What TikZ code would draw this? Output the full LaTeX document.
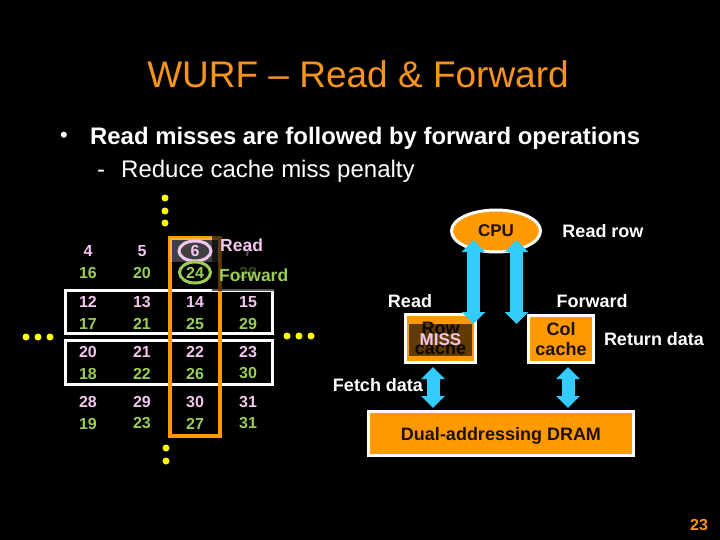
\documentclass[tikz,border=0pt]{standalone}
\usepackage{fontspec}
\setmainfont{Liberation Sans}
\usetikzlibrary{shapes.geometric, arrows.meta, calc}

\definecolor{titleorange}{HTML}{F7941D}
\definecolor{slideorange}{HTML}{FF9900}
\definecolor{arrowblue}{HTML}{33CCFF}
\definecolor{numpink}{HTML}{F2C6EE}
\definecolor{numgreen}{HTML}{99CC55}
\definecolor{dotyellow}{HTML}{FFFF00}
\definecolor{darktext}{HTML}{1F1000}

\tikzset{
  numtop/.style={text=numpink, font=\fontsize{16}{18}\selectfont\bfseries, inner sep=0pt},
  numbot/.style={text=numgreen, font=\fontsize{16}{18}\selectfont\bfseries, inner sep=0pt},
  rowframe/.style={draw=white, line width=3pt},
  boxlbl/.style={text=white, font=\fontsize{18}{20}\selectfont\bfseries, inner sep=0pt},
  darklbl/.style={text=darktext, font=\fontsize{18}{20.5}\selectfont\bfseries, align=center, text depth=0pt},
  unitbox/.style={draw=white, line width=3pt, fill=slideorange, inner sep=0pt},
  dblarrow/.style={draw=arrowblue, line width=13pt,
    {Triangle[width=23pt,length=12pt]}-{Triangle[width=23pt,length=12pt]}},
  ellipsisdot/.style={fill=dotyellow}
}

\begin{document}
\begin{tikzpicture}[x=1pt, y=-1pt]
  % Background
  \fill[black] (0,0) rectangle (720,540);

  % Title and bullets
  \node[anchor=base, inner sep=0pt, text=titleorange, font=\fontsize{37}{40}\selectfont] (title) at (358,88) {WURF – Read \& Forward};
  \node[text=white, font=\fontsize{22}{24}\selectfont, inner sep=0pt] (bullet) at (64,137) {•};
  \node[anchor=base west, inner sep=0pt, text=white, font=\fontsize{23.9}{26}\selectfont\bfseries] (point) at (90,145) {Read misses are followed by forward operations};
  \node[anchor=base west, inner sep=0pt, text=white, font=\fontsize{24}{26}\selectfont] (subdash) at (97,178) {-};
  \node[anchor=base west, inner sep=0pt, text=white, font=\fontsize{24}{26}\selectfont] (subpoint) at (121,178) {Reduce cache miss penalty};

  % Ellipsis dots round the array
  \foreach \y in {198,211,223}{
    \fill[ellipsisdot] (165,\y) circle (3.5);
  }
  \foreach \y in {448,461}{
    \fill[ellipsisdot] (166,\y) circle (3.5);
  }
  \foreach \x in {26,38,50}{
    \fill[ellipsisdot] (\x,337) circle (3.5);
  }
  \foreach \x in {287,299,311}{
    \fill[ellipsisdot] (\x,336) circle (3.5);
  }

  % Row frames and column frame
  \draw[rowframe] (65,290) rectangle (272,333.5);
  \draw[rowframe] (65,340) rectangle (272,384.5);
  \draw[slideorange, line width=4pt] (170,238) rectangle (220,436.3);
  \fill[white, opacity=0.25] (170,238) rectangle (220,262);

  % Array contents
  \foreach \c/\x in {1/88,2/142,3/195,4/248}{
    \foreach \r/\y in {1/251,2/302,3/352,4/402}{
      \pgfmathtruncatemacro\toprow{8*\r+\c-5}
      \pgfmathtruncatemacro\botrow{15+\r+4*(\c-1)}
      \node[numtop] (p-\r-\c) at (\x,\y) {\toprow};
      \node[numbot] (g-\r-\c) at (\x,\y+21.5) {\botrow};
    }
  }
  \fill[black, opacity=0.65] (212,236) rectangle (274,291);

  % Read and forward marks
  \draw[numpink, line width=3pt] (p-1-3.center) ellipse [x radius=16, y radius=10];
  \draw[numgreen, line width=3pt] (g-1-3.center) ellipse [x radius=15.5, y radius=10.5];
  \node[anchor=base west, inner sep=0pt, text=numpink, font=\fontsize{17.5}{20}\selectfont\bfseries] (readmark) at (220,251.5) {Read};
  \node[anchor=base west, inner sep=0pt, text=numgreen, font=\fontsize{17.5}{20}\selectfont\bfseries] (fwdmark) at (219,281) {Forward};

  % Units
  \node[ellipse, draw=white, line width=3pt, fill=slideorange, minimum width=89pt, minimum height=42pt,
        inner sep=0pt, text=darktext, font=\fontsize{17}{19}\selectfont\bfseries] (cpu) at (496,231) {CPU};
  \node[unitbox, darklbl, minimum width=70pt, minimum height=48pt] (rowcache) at (440.5,338.5) {Row\\cache};
  \fill[black, opacity=0.62] ($(rowcache)+(-31.5,-14.5)$) rectangle ($(rowcache)+(31.5,17.5)$);
  \node[text=numpink, font=\fontsize{17}{19}\selectfont\bfseries, inner sep=0pt] (miss) at ($(rowcache)+(0,1)$) {MISS};
  \node[unitbox, darklbl, minimum width=65pt, minimum height=47pt] (colcache) at (561,339) {Col\\cache};
  \node[unitbox, darklbl, minimum width=265pt, minimum height=44pt] (dram) at (501,433.5) {Dual-addressing DRAM};

  % Labels
  \node[boxlbl, anchor=base] (readrow) at (603,237) {Read row};
  \node[boxlbl, anchor=base] (readhd) at (410,307) {Read};
  \node[boxlbl, anchor=base] (fwdhd) at (592,307) {Forward};
  \node[boxlbl, anchor=base] (retdata) at (654,345.5) {Return data};
  \node[boxlbl, anchor=base] (fetch) at (378,391) {Fetch data};

  % Data paths
  \draw[dblarrow] ($(cpu.south)+(-22.5,-13.5)$) -- ($(rowcache.north east)+(-3.5,11)$);
  \draw[dblarrow] ($(cpu.south)+(20.5,-13.5)$) -- ($(colcache.north west)+(-10.5,10)$);
  \draw[dblarrow] ($(rowcache.south)+(-7.5,3)$) -- ($(rowcache.south |- dram.north)+(-7.5,-2)$);
  \draw[dblarrow] ($(colcache.south)+(7,3)$) -- ($(colcache.south |- dram.north)+(7,-2)$);

  % Page number
  \node[anchor=base, inner sep=0pt, text=titleorange, font=\fontsize{16}{18}\selectfont\bfseries] (pagenum) at (699,530) {23};
\end{tikzpicture}
\end{document}
